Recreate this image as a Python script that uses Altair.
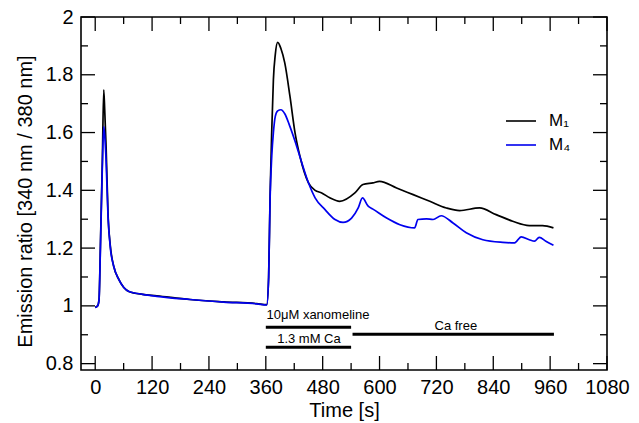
import altair as alt
import pandas as pd

# ---- data ----
m1_t = [0, 5, 8, 11, 15, 18, 20, 23, 27, 32, 39, 50, 71, 100, 130, 200, 271, 341, 362,
        366, 369, 372.6, 376, 380, 385, 392, 400, 411, 421.7, 432, 450, 464, 478, 495,
        516, 548, 565, 586, 600, 636, 671, 706, 741, 769, 811, 846, 881, 916, 944, 967]
m1_v = [0.995, 1.0, 1.02, 1.21, 1.50, 1.748, 1.68, 1.55, 1.32, 1.206, 1.137, 1.091, 1.050,
        1.040, 1.035, 1.022, 1.014, 1.008, 1.004,
        1.10, 1.38, 1.61, 1.783, 1.87, 1.912, 1.89, 1.841, 1.725, 1.599, 1.518, 1.426,
        1.40, 1.391, 1.374, 1.362, 1.391, 1.420, 1.426, 1.431, 1.408, 1.385, 1.362,
        1.339, 1.330, 1.339, 1.316, 1.293, 1.278, 1.278, 1.270]

m4_t = [0, 5, 8, 11, 15, 18, 20, 23, 27, 32, 39, 50, 71, 100, 130, 200, 271, 341, 362,
        366, 369, 372.6, 376, 380, 385, 392, 400, 410, 421.7, 436, 450, 464, 485, 506,
        523, 541, 555, 564, 576, 586, 615, 643, 674, 681, 699, 713, 730, 755, 783, 818,
        860, 885, 899, 916, 927, 937, 951, 967]
m4_v = [0.995, 1.0, 1.02, 1.20, 1.48, 1.621, 1.59, 1.50, 1.31, 1.20, 1.137, 1.091, 1.050,
        1.040, 1.033, 1.022, 1.013, 1.007, 1.003,
        1.10, 1.37, 1.52, 1.60, 1.656, 1.675, 1.679, 1.665, 1.625, 1.57, 1.495, 1.426,
        1.374, 1.333, 1.299, 1.289, 1.304, 1.339, 1.374, 1.345, 1.335, 1.304, 1.281,
        1.270, 1.299, 1.301, 1.299, 1.312, 1.287, 1.253, 1.229, 1.220, 1.218, 1.239,
        1.229, 1.224, 1.237, 1.224, 1.210]

series_names = ["M\u2081", "M\u2084"]
series_colors = ["#000000", "#0000ee"]

x_major = [0, 120, 240, 360, 480, 600, 720, 840, 960, 1080]
x_minor = [60, 180, 300, 420, 540, 660, 780, 900, 1020]
y_major = [0.8, 1.0, 1.2, 1.4, 1.6, 1.8, 2.0]
y_minor = [0.9, 1.1, 1.3, 1.5, 1.7, 1.9]

bar_start = [360, 360, 543]
bar_end = [540, 540, 968]
bar_level = [0.926, 0.857, 0.902]

note_text = ["10\u03bcM xanomeline", "1.3 mM Ca", "Ca free"]
note_t = [470, 451, 761]
note_v = [0.967, 0.887, 0.929]

# ---- layout ----
W, H = 526, 353
FONT = "Liberation Sans"

xs = alt.Scale(domain=[-30, 1080], nice=False, zero=False)
ys = alt.Scale(domain=[0.778, 2.0], nice=False, zero=False)
cs = alt.Scale(domain=series_names, range=series_colors)

df1 = pd.DataFrame({"t": m1_t, "v": m1_v, "series": series_names[0]})
df4 = pd.DataFrame({"t": m4_t, "v": m4_v, "series": series_names[1]})

x_axis = alt.Axis(values=x_major, format="d", ticks=False, tickSize=0, domain=False, grid=False,
                  labelFontSize=20, labelPadding=7, labelColor="black", labelFlush=False,
                  labelOverlap=False, labelBound=False,
                  title="Time [s]", titleFontSize=20, titleFontWeight="normal", titleColor="black",
                  titleX=263, titleY=46, titleBaseline="alphabetic", titleAlign="center")
y_axis = alt.Axis(values=y_major, format="~f", ticks=False, tickSize=0, domain=False, grid=False,
                  labelFontSize=20, labelPadding=8, labelColor="black", labelFlush=False,
                  labelOverlap=False, labelBound=False,
                  title="Emission ratio [340 nm / 380 nm]", titleFontSize=20,
                  titleFontWeight="normal", titleColor="black",
                  titleX=-50, titleY=184, titleBaseline="alphabetic", titleAlign="center",
                  titleAngle=270)

legend = alt.Legend(title=None, orient="none", legendX=424, legendY=88, padding=0,
                    symbolType="stroke", symbolSize=900, symbolStrokeWidth=1.6,
                    labelFontSize=17, labelOffset=12, rowPadding=-3, labelColor="black")


def X(field="t"):
    return alt.X(f"{field}:Q", scale=xs, axis=x_axis)


def Y(field="v"):
    return alt.Y(f"{field}:Q", scale=ys, axis=y_axis)


def series_layer(df):
    return alt.Chart(df).mark_line(strokeWidth=1.7, interpolate="monotone").encode(
        x=X(), y=Y(),
        color=alt.Color("series:N", scale=cs, legend=legend),
    )


def xtick_layer(vals, length, side):
    base = alt.Chart(pd.DataFrame({"t": vals})).mark_rule(color="black", strokeWidth=1.3)
    if side == "bottom":
        return base.encode(x=X(), y=alt.value(H), y2=alt.value(H - length))
    return base.encode(x=X(), y=alt.value(0), y2=alt.value(length))


def ytick_layer(vals, length, side):
    base = alt.Chart(pd.DataFrame({"v": vals})).mark_rule(color="black", strokeWidth=1.3)
    if side == "left":
        return base.encode(y=Y(), x=alt.value(0), x2=alt.value(length))
    return base.encode(y=Y(), x=alt.value(W), x2=alt.value(W - length))


ticks = []
for side in ["bottom", "top"]:
    ticks.append(xtick_layer(x_major, 14, side))
    ticks.append(xtick_layer(x_minor, 7, side))
for side in ["left", "right"]:
    ticks.append(ytick_layer(y_major, 14, side))
    ticks.append(ytick_layer(y_minor, 7, side))

bars_df = pd.DataFrame({"t": bar_start, "t2": bar_end, "v": bar_level})
bars = alt.Chart(bars_df).mark_rule(color="black", strokeWidth=3).encode(
    x=X(), x2="t2:Q", y=Y())

notes_df = pd.DataFrame({"t": note_t, "v": note_v, "label": note_text})
notes = alt.Chart(notes_df).mark_text(fontSize=13, color="black", font=FONT,
                                      align="center", baseline="middle").encode(
    x=X(), y=Y(), text="label:N")

chart = alt.layer(
    series_layer(df1),
    series_layer(df4),
    bars, notes, *ticks,
).properties(
    width=W, height=H,
    autosize="none",
    padding={"left": 81, "top": 17, "right": 32, "bottom": 53},
).configure(
    font=FONT,
).configure_view(
    stroke="black", strokeWidth=1.6,
)

chart.save("out.html", embed_options={"renderer": "svg", "actions": False})
